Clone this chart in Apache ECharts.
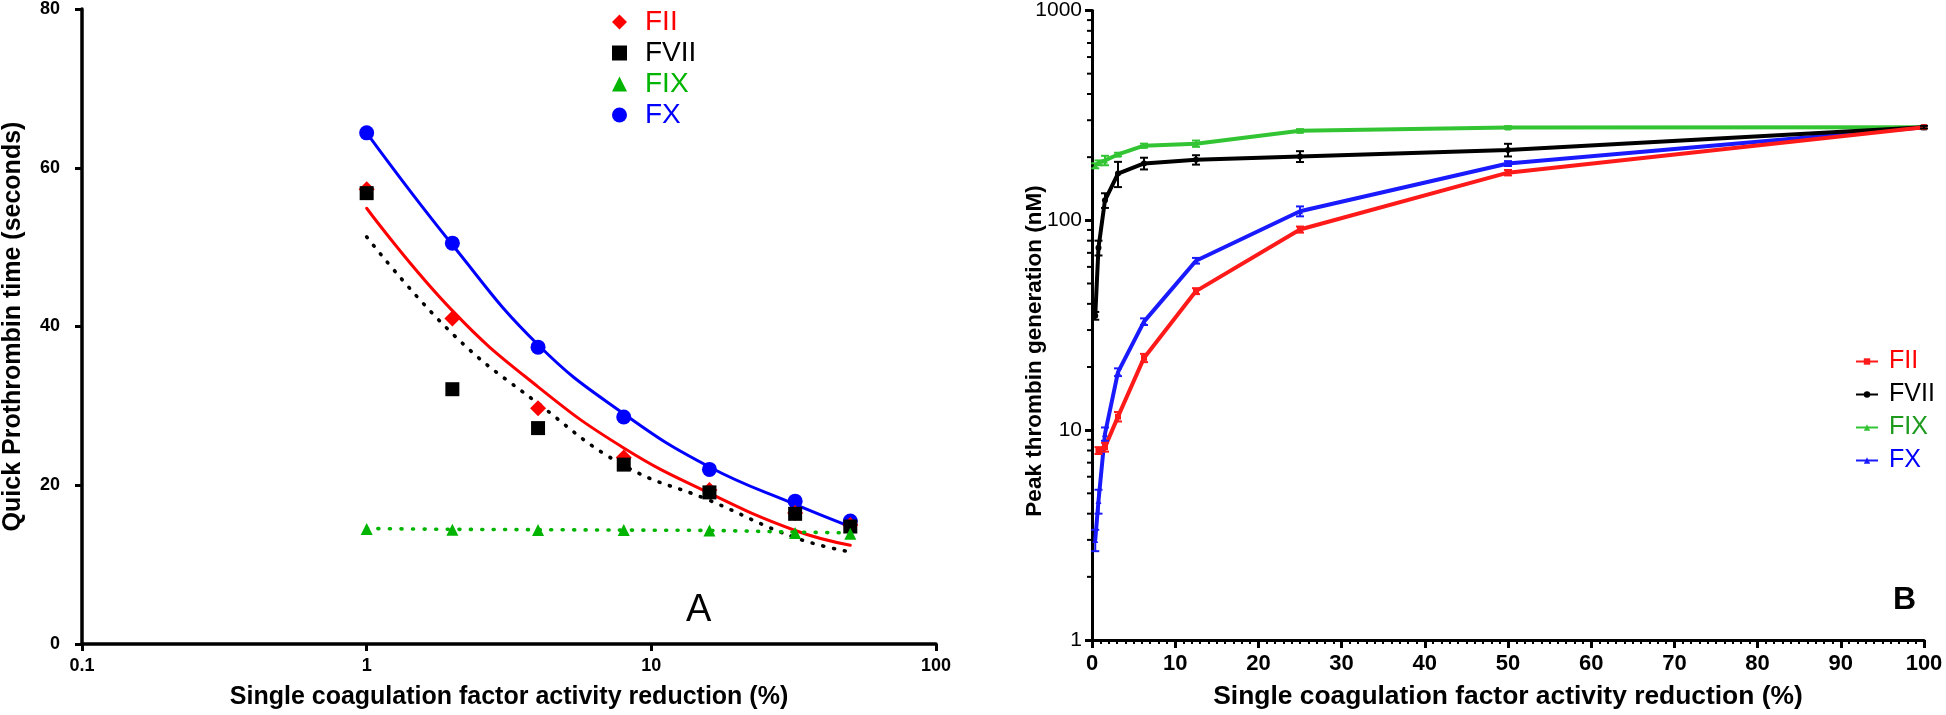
<!DOCTYPE html>
<html><head><meta charset="utf-8">
<script src="https://cdn.jsdelivr.net/npm/echarts@6/dist/echarts.min.js"></script>
<style>html,body{margin:0;padding:0;background:#fff}#c{width:1946px;height:715px}</style>
</head><body><div id="c"></div>
<script>
// ---------- Panel A : Quick prothrombin time ----------
const factorNames = ['FII', 'FVII', 'FIX', 'FX'];
const ptX = [1, 2, 4, 8, 16, 32, 50];
const ptFII = [57.3, 41.0, 29.7, 23.5, 19.4, 16.5, 15.0];
const ptFVII = [56.8, 32.1, 27.2, 22.6, 19.1, 16.4, 14.8];
const ptFIX = [14.5, 14.4, 14.35, 14.35, 14.3, 14.0, 13.9];
const ptFX = [64.4, 50.5, 37.4, 28.6, 22.0, 18.0, 15.5];
// fitted curves at the same x positions
const fitFII = [54.9, 42.0, 32.4, 24.7, 19.0, 14.3, 12.45];
const fitFVII = [51.3, 39.1, 30.3, 22.5, 18.1, 13.4, 11.6];
const fitFIX = [14.55, 14.45, 14.4, 14.35, 14.3, 14.1, 14.0];
const fitFX = [64.4, 50.3, 37.7, 29.0, 22.3, 17.6, 14.8];
const aYTicks = [0, 20, 40, 60, 80];

// ---------- Panel B : Peak thrombin generation ----------
const tgX = [0.39, 0.78, 1.56, 3.125, 6.25, 12.5, 25, 50, 100];
const tgFII = [null, 8.0, 8.3, 11.6, 22.1, 46.0, 90.4, 168.7, 278];
const tgFIIerr = [0, 0.3, 0.4, 0.6, 1.0, 1.5, 3, 5, 3];
const tgFVII = [35.1, 74.0, 124.6, 167, 186.8, 194.3, 201.6, 216.6, 278];
const tgFVIIerr = [1.5, 6, 10, 23, 12, 10, 12, 15, 4];
const tgFIX = [182, 188, 193, 206, 227, 232, 267, 277, 278];
const tgFIXerr = [5, 5, 10, 4, 5, 8, 5, 4, 3];
const tgFX = [3.0, 4.6, 9.6, 18.9, 32.9, 64.2, 110.5, 186.5, 278];
const tgFXerr = [0.35, 0.6, 0.7, 0.8, 1.2, 2, 6, 5, 3];
const bYMajor = [1, 10, 100, 1000];

const FONT = 'Liberation Sans, Arial, sans-serif';
const colA = {FII: '#ff0000', FVII: '#000000', FIX: '#00b400', FX: '#0000ff'};
const colB = {FII: '#ff1a1a', FVII: '#000000', FIX: '#33c433', FX: '#1a1aff'};
const legBText = {FII: '#ff0000', FVII: '#000000', FIX: '#1e9a1e', FX: '#0000ff'};

function zip(xs, ys) { const out = []; xs.forEach((x, i) => { if (ys[i] != null) out.push([x, ys[i]]); }); return out; }
function zipErr(xs, ys, es) { const out = []; xs.forEach((x, i) => { if (ys[i] != null) out.push([x, ys[i] - es[i], ys[i] + es[i]]); }); return out; }

// minor tick values for log axis of panel B
const bMinor = [];
for (let d = 0; d < 3; d++) for (let k = 2; k <= 9; k++) bMinor.push(k * Math.pow(10, d));

const series = [];
// Panel A fits
const fitDefs = [
  ['FII fit', fitFII, colA.FII, 'solid'],
  ['FVII fit', fitFVII, colA.FVII, [1, 10]],
  ['FIX fit', fitFIX, colA.FIX, [1, 10.5]],
  ['FX fit', fitFX, colA.FX, 'solid']
];
fitDefs.forEach(([n, d, c, t]) => series.push({
  name: n, type: 'line', xAxisIndex: 0, yAxisIndex: 0, data: zip(ptX, d),
  smooth: 0.45, showSymbol: false, silent: true,
  lineStyle: {color: c, width: t === 'solid' ? 3 : 3.6, type: t, cap: 'round'}, z: 2
}));
// Panel A points
const ptDefs = [
  ['FX', ptFX, 'circle', 15],
  ['FII', ptFII, 'diamond', 16],
  ['FVII', ptFVII, 'rect', 14],
  ['FIX', ptFIX, 'triangle', 12]
];
ptDefs.forEach(([n, d, s, sz]) => series.push({
  name: n, type: 'scatter', xAxisIndex: 0, yAxisIndex: 0, data: zip(ptX, d),
  symbol: s, symbolSize: sz, itemStyle: {color: colA[n], opacity: 1}, z: 3
}));

// Panel B lines
const tgDefs = [
  ['FX', tgFX, tgFXerr, 'triangle'],
  ['FIX', tgFIX, tgFIXerr, 'triangle'],
  ['FVII', tgFVII, tgFVIIerr, 'circle'],
  ['FII', tgFII, tgFIIerr, 'rect']
];
tgDefs.forEach(([n, d, e, s]) => {
  series.push({
    name: 'B:' + n, type: 'line', xAxisIndex: 1, yAxisIndex: 1, data: zip(tgX, d),
    symbol: s, symbolSize: 6, showSymbol: true,
    lineStyle: {color: colB[n], width: 4}, itemStyle: {color: colB[n], opacity: 1}, z: 3
  });
  series.push({
    name: 'B:' + n + ' err', type: 'custom', xAxisIndex: 1, yAxisIndex: 1, silent: true,
    data: zipErr(tgX, d, e), encode: {x: 0, y: [1, 2]}, z: 4,
    renderItem: function (params, api) {
      const lo = api.coord([api.value(0), api.value(1)]);
      const hi = api.coord([api.value(0), api.value(2)]);
      if (Math.abs(lo[1] - hi[1]) < 2) return null;
      const st = {stroke: colB[n], lineWidth: 2};
      return {type: 'group', children: [
        {type: 'line', shape: {x1: lo[0], y1: lo[1], x2: hi[0], y2: hi[1]}, style: st},
        {type: 'line', shape: {x1: lo[0] - 4, y1: lo[1], x2: lo[0] + 4, y2: lo[1]}, style: st},
        {type: 'line', shape: {x1: hi[0] - 4, y1: hi[1], x2: hi[0] + 4, y2: hi[1]}, style: st}
      ]};
    }
  });
});
// Panel B log minor ticks on y axis
series.push({
  name: 'minorTicks', type: 'custom', xAxisIndex: 1, yAxisIndex: 1, silent: true,
  data: bMinor.map(v => [0, v]), encode: {x: 0, y: 1}, z: 5,
  renderItem: function (params, api) {
    const p = api.coord([api.value(0), api.value(1)]);
    return {type: 'line', shape: {x1: p[0] - 5, y1: p[1], x2: p[0], y2: p[1]}, style: {stroke: '#000', lineWidth: 2}};
  }
});

const chart = echarts.init(document.getElementById('c'));
chart.setOption({
  animation: false,
  backgroundColor: '#fff',
  textStyle: {fontFamily: FONT},
  grid: [
    {left: 79, top: 7, width: 857, height: 638, containLabel: false},
    {left: 1092, top: 10, width: 832, height: 631, containLabel: false}
  ],
  legend: [
    {
      orient: 'vertical', left: 607, top: 3, itemWidth: 15, itemHeight: 15, itemGap: 3,
      selectedMode: false,
      data: factorNames.map(n => ({name: n, icon: {FII: 'diamond', FVII: 'rect', FIX: 'triangle', FX: 'circle'}[n],
        textStyle: {color: colA[n]}})),
      textStyle: {fontSize: 28, fontFamily: FONT, lineHeight: 28, padding: [0, 0, 0, 13]}
    },
    {
      orient: 'vertical', left: 1850, top: 344, itemWidth: 22, itemHeight: 8, itemGap: 8,
      selectedMode: false,
      data: factorNames.map(n => ({name: 'B:' + n, textStyle: {color: legBText[n]}})),
      formatter: name => name.slice(2),
      textStyle: {fontSize: 25, fontFamily: FONT, lineHeight: 25, padding: [0, 0, 0, 6]}
    }
  ],
  xAxis: [
    {
      gridIndex: 0, type: 'log', logBase: 10, min: 0.1, max: 100,
      axisLine: {show: true, lineStyle: {color: '#000', width: 3.5}},
      axisTick: {show: true, length: 7, lineStyle: {color: '#000', width: 3}},
      axisLabel: {fontSize: 18, fontWeight: 'bold', color: '#000', margin: 13, fontFamily: FONT,
        formatter: v => String(+v.toPrecision(6))},
      splitLine: {show: false},
      name: 'Single coagulation factor activity reduction (%)', nameLocation: 'middle', nameGap: 41,
      nameTextStyle: {fontSize: 25, fontWeight: 'bold', color: '#000', fontFamily: FONT}
    },
    {
      gridIndex: 1, type: 'value', min: 0, max: 100, interval: 10,
      axisLine: {show: true, lineStyle: {color: '#000', width: 3}},
      axisTick: {show: true, length: 8, lineStyle: {color: '#000', width: 3}},
      minorTick: {show: true, splitNumber: 10, length: 4, lineStyle: {color: '#000', width: 2}},
      axisLabel: {fontSize: 22, fontWeight: 'bold', color: '#000', margin: 13, fontFamily: FONT},
      splitLine: {show: false},
      name: 'Single coagulation factor activity reduction (%)', nameLocation: 'middle', nameGap: 44,
      nameTextStyle: {fontSize: 26.4, fontWeight: 'bold', color: '#000', fontFamily: FONT}
    }
  ],
  yAxis: [
    {
      gridIndex: 0, type: 'value', min: aYTicks[0], max: aYTicks[aYTicks.length - 1], interval: 20,
      axisLine: {show: true, lineStyle: {color: '#000', width: 3.5}},
      axisTick: {show: true, length: 7, lineStyle: {color: '#000', width: 3}},
      axisLabel: {fontSize: 18, fontWeight: 'bold', color: '#000', margin: 22, fontFamily: FONT},
      splitLine: {show: false},
      name: 'Quick Prothrombin time (seconds)', nameLocation: 'middle', nameGap: 56,
      nameTextStyle: {fontSize: 25, fontWeight: 'bold', color: '#000', fontFamily: FONT}
    },
    {
      gridIndex: 1, type: 'log', logBase: 10, min: bYMajor[0], max: bYMajor[bYMajor.length - 1],
      axisLine: {show: true, lineStyle: {color: '#000', width: 3}},
      axisTick: {show: true, length: 7, lineStyle: {color: '#000', width: 3}},
      axisLabel: {fontSize: 21, color: '#000', margin: 10, fontFamily: FONT, formatter: v => String(Math.round(v))},
      splitLine: {show: false}
    }
  ],
  graphic: [
    {type: 'text', left: 686, top: 592, style: {text: 'A', font: '38px ' + FONT, fill: '#000'}},
    {type: 'text', left: 1893, top: 584, style: {text: 'B', font: 'bold 32px ' + FONT, fill: '#000'}},
    {type: 'text', x: 1035, y: 351, rotation: Math.PI / 2,
      style: {text: 'Peak thrombin generation (nM)', font: 'bold 22.5px ' + FONT, fill: '#000',
        align: 'center', verticalAlign: 'middle'}}
  ],
  series: series
});
</script>
</body></html>
